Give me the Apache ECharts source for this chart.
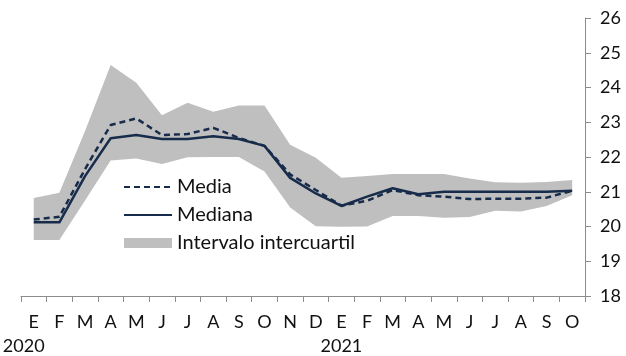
<!DOCTYPE html>
<html><head><meta charset="utf-8">
<script src="https://cdn.jsdelivr.net/npm/echarts@6/dist/echarts.min.js"></script>
<style>html,body{margin:0;padding:0;background:#fff}#c{width:626px;height:356px}</style>
</head><body><div id="c"></div>
<script>
var months = ['E','F','M','A','M','J','J','A','S','O','N','D','E','F','M','A','M','J','J','A','S','O'];
var yearLabels = ['2020','','','','','','','','','','','','2021','','','','','','','','',''];
var media   = [20.2, 20.28, 21.65, 22.92, 23.11, 22.63, 22.66, 22.84, 22.55, 22.32, 21.5, 21.05, 20.6, 20.74, 21.05, 20.9, 20.86, 20.79, 20.8, 20.8, 20.83, 21.03];
var mediana = [20.12, 20.12, 21.45, 22.54, 22.63, 22.52, 22.52, 22.6, 22.52, 22.32, 21.4, 20.95, 20.59, 20.86, 21.1, 20.93, 21.0, 21.0, 21.0, 21.0, 21.0, 21.03];
var p25     = [19.61, 19.61, 20.75, 21.9, 21.96, 21.8, 21.99, 22.0, 22.0, 21.58, 20.55, 20.01, 19.99, 20.0, 20.3, 20.3, 20.25, 20.27, 20.45, 20.43, 20.59, 20.9];
var p75     = [20.82, 20.97, 22.75, 24.65, 24.14, 23.2, 23.56, 23.3, 23.48, 23.48, 22.35, 21.98, 21.4, 21.45, 21.51, 21.51, 21.51, 21.38, 21.27, 21.26, 21.28, 21.34];

var bandWidth = p75.map(function(v,i){ return +(v - p25[i]).toFixed(3); });
var FONT = 'Lato';
var navy = '#172c4b';
var axisGray = '#8c8c8c';

var chart = echarts.init(document.getElementById('c'), null, {renderer:'canvas'});
chart.setOption({
  animation: false,
  textStyle: {fontFamily: FONT},
  grid: {left: 15, right: 41, top: 18, bottom: 60, containLabel: false},
  legend: {
    orient: 'vertical', left: 118, top: 172,
    itemWidth: 48, itemHeight: 10, itemGap: 8,
    textStyle: {fontFamily: FONT, fontSize: 20, color: '#111'},
    data: [
      {name: 'Media', itemStyle: {opacity: 0, borderWidth: 0}},
      {name: 'Mediana', itemStyle: {opacity: 0, borderWidth: 0}},
      {name: 'Intervalo intercuartil', icon: 'rect', itemStyle: {color: '#bfbfbf'}}
    ]
  },
  xAxis: [{
    type: 'category', data: months, boundaryGap: true, position: 'bottom',
    axisLine: {show: true, lineStyle: {color: axisGray, width: 1}},
    axisTick: {show: true, inside: false, length: 6, alignWithLabel: false, interval: 0, lineStyle: {color: axisGray}},
    axisLabel: {interval: 0, margin: 17, fontSize: 18, color: '#111', fontFamily: FONT},
    splitLine: {show: false}
  }, {
    type: 'category', data: yearLabels, boundaryGap: true, position: 'bottom',
    axisLine: {show: false}, axisTick: {show: false}, splitLine: {show: false},
    axisLabel: {interval: 0, margin: 41, fontSize: 18, color: '#111', fontFamily: FONT,
      formatter: function(v, i){ return i === 0 ? '{a|' + v + '}' : v; },
      rich: {a: {fontSize: 18, fontFamily: FONT, color: '#111', padding: [0, 20, 0, 0]}}}
  }],
  yAxis: {
    type: 'value', position: 'right', min: 18, max: 26, interval: 1,
    axisLine: {show: true, lineStyle: {color: axisGray, width: 1}},
    axisTick: {show: true, inside: false, length: 6, lineStyle: {color: axisGray}},
    axisLabel: {margin: 15, fontSize: 18, color: '#111', fontFamily: FONT},
    splitLine: {show: false}
  },
  series: [
    {name: 'lo', type: 'line', stack: 'band', data: p25, symbol: 'none',
     lineStyle: {width: 0, opacity: 0}, silent: true, z: 1},
    {name: 'Intervalo intercuartil', type: 'line', stack: 'band', data: bandWidth, symbol: 'none',
     lineStyle: {width: 0, opacity: 0}, itemStyle: {color: '#bfbfbf'},
     areaStyle: {color: '#bfbfbf', opacity: 1}, z: 1},
    {name: 'Mediana', type: 'line', data: mediana, symbol: 'none', z: 3,
     itemStyle: {color: navy},
     lineStyle: {color: navy, width: 2.5, join: 'round'}},
    {name: 'Media', type: 'line', data: media, symbol: 'none', z: 4,
     itemStyle: {color: navy},
     lineStyle: {color: navy, width: 2.5, type: [6, 4]}}
  ]
});
</script>
</body></html>
